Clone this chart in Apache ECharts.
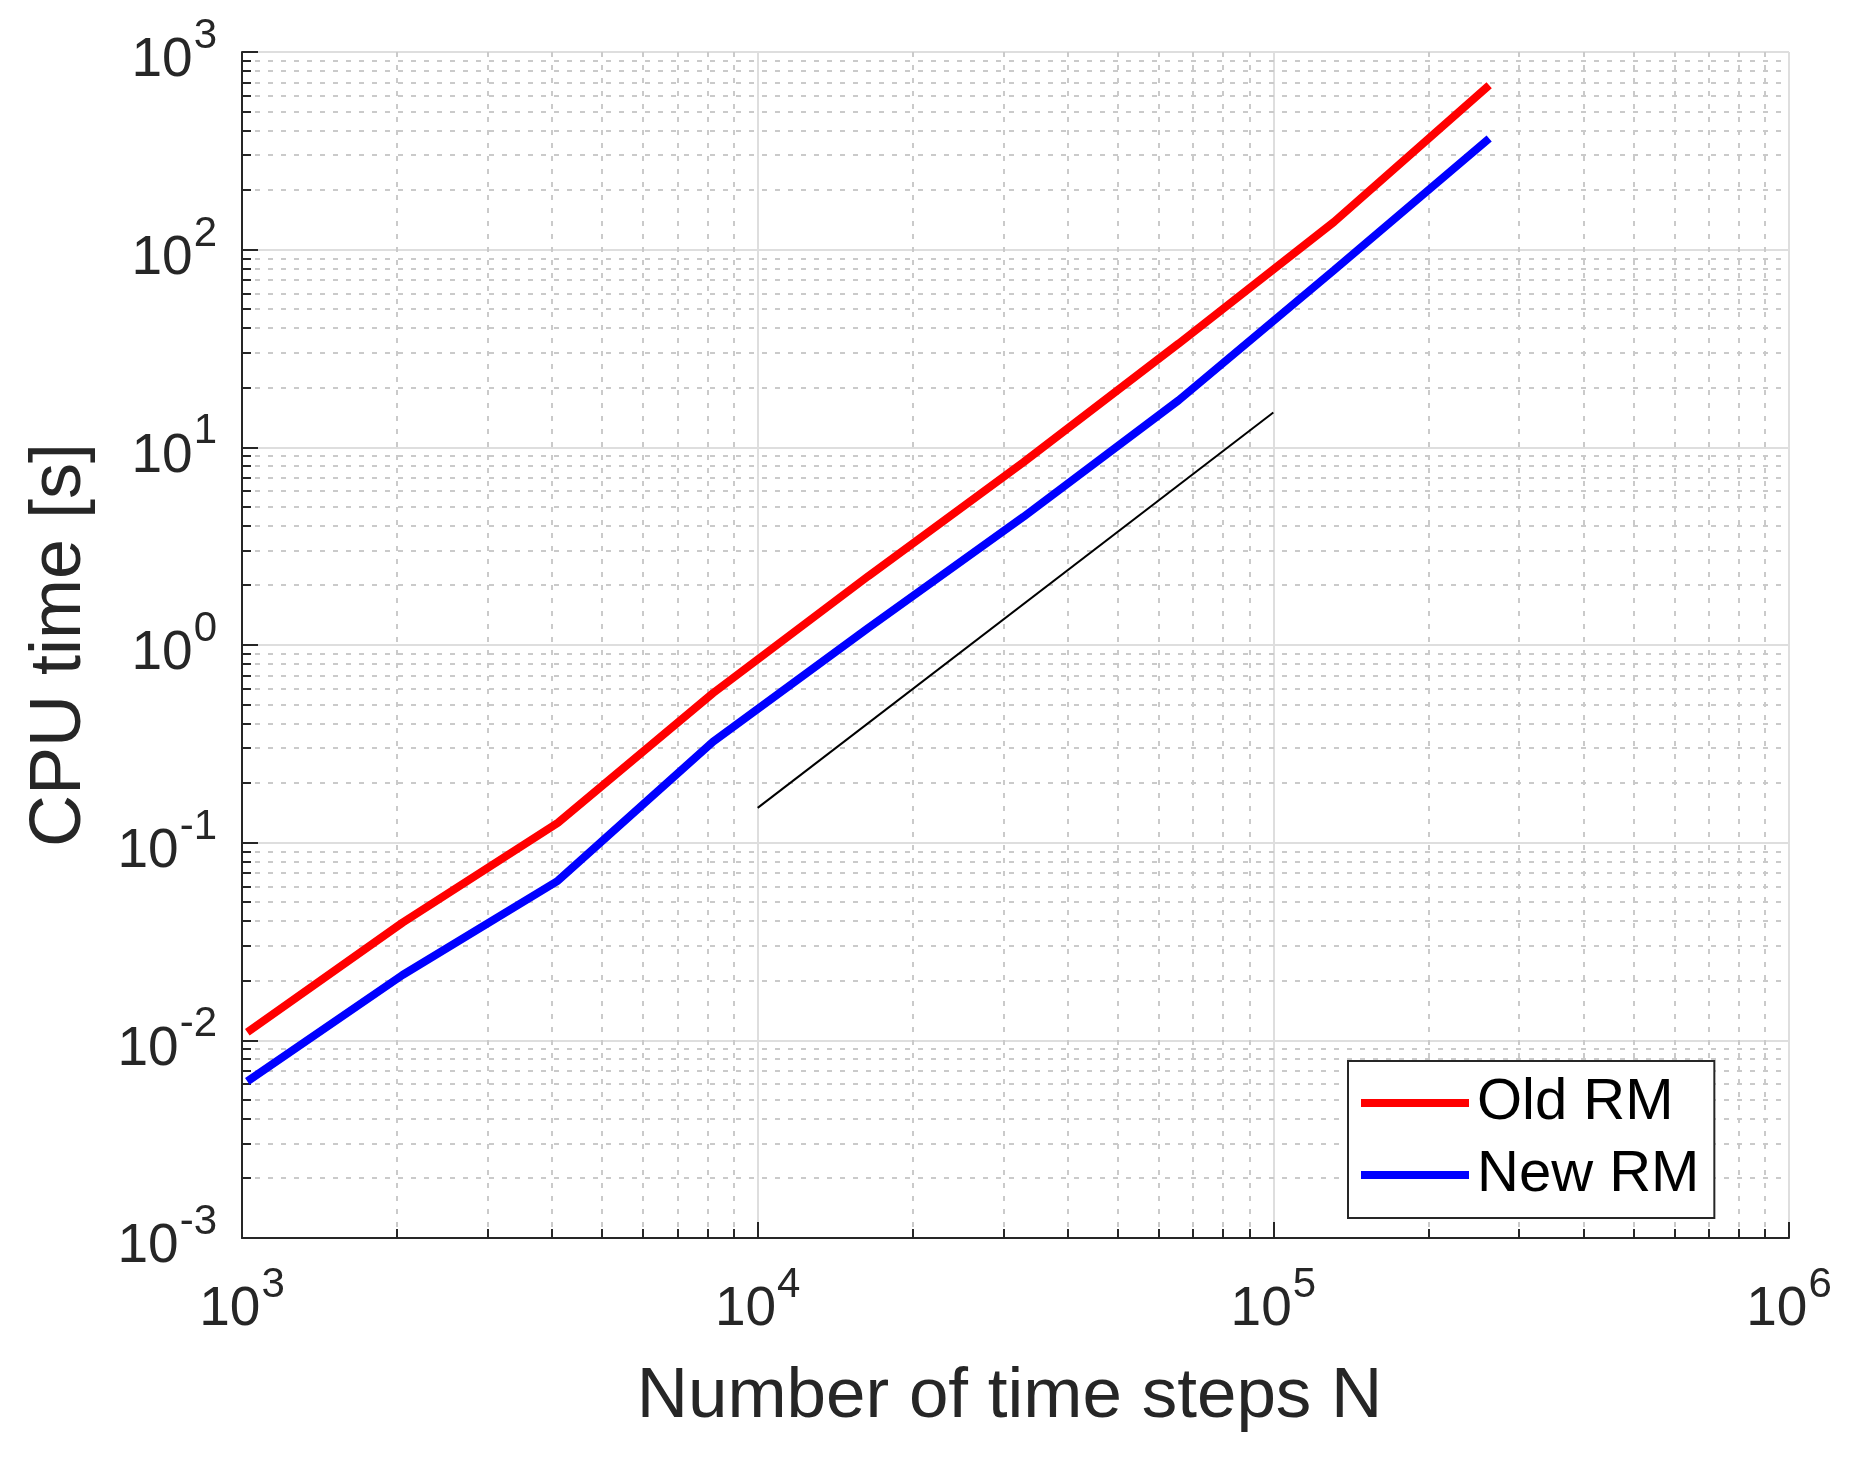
<!DOCTYPE html>
<html>
<head>
<meta charset="utf-8">
<script src="https://cdn.jsdelivr.net/npm/echarts@6/dist/echarts.min.js"></script>
<style>
html, body { margin: 0; padding: 0; background: #fff; }
#chart { width: 1854px; height: 1461px; }
</style>
</head>
<body>
<div id="chart"></div>
<script>
// ---- data ----
const stepsN = [1024, 2048, 4096, 8192, 16384, 32768, 65536, 131072, 262144];
const oldRM = [0.011, 0.0394, 0.126, 0.571, 2.23, 8.4, 33.5, 138, 679];
const newRM = [0.0062, 0.0214, 0.0641, 0.324, 1.22, 4.45, 17.3, 78.7, 365];
const refN = [1e4, 1e5];
const refT = [0.15, 15];
const seriesNames = ['Old RM', 'New RM'];
const xDecades = [1e3, 1e4, 1e5];
const yDecades = [1e-3, 1e-2, 1e-1, 1, 1e1, 1e2];
const minorMult = [2, 3, 4, 5, 6, 7, 8, 9];

const FONT = "'Liberation Sans', Arial, Helvetica, sans-serif";
const AX = '#262626';

const xMinor = [];
xDecades.forEach(d => minorMult.forEach(m => xMinor.push([d * m, 1])));
const yMinor = [];
yDecades.forEach(d => minorMult.forEach(m => yMinor.push([1e4, d * m])));

function pairs(xs, ys) { return xs.map((x, i) => [x, ys[i]]); }

function powLabel(v) {
  const e = Math.round(Math.log10(v));
  return '{b|10}{s|' + e + '}';
}
const labelRich = {
  b: { fontSize: 55, fontFamily: FONT, color: AX, verticalAlign: 'bottom' },
  s: { fontSize: 42, fontFamily: FONT, color: AX, verticalAlign: 'top', padding: [0, 0, 31, 1] }
};

function minorRender(dir) {
  return function (params, api) {
    const cs = params.coordSys;
    const children = [];
    const p = api.coord([api.value(0), api.value(1)]);
    if (dir === 'x') {
      const x = Math.round(p[0]);
      children.push({ type: 'line', shape: { x1: x, y1: cs.y, x2: x, y2: cs.y + cs.height },
        style: { stroke: '#cacaca', lineWidth: 2, lineDash: [5, 8] } });
      children.push({ type: 'line', shape: { x1: x, y1: cs.y + cs.height, x2: x, y2: cs.y + cs.height - 9 },
        style: { stroke: AX, lineWidth: 2 } });
    } else {
      const y = Math.round(p[1]);
      children.push({ type: 'line', shape: { x1: cs.x, y1: y, x2: cs.x + cs.width, y2: y },
        style: { stroke: '#cacaca', lineWidth: 2, lineDash: [5, 8] } });
      children.push({ type: 'line', shape: { x1: cs.x, y1: y, x2: cs.x + 9, y2: y },
        style: { stroke: AX, lineWidth: 2 } });
    }
    return { type: 'group', children: children };
  };
}

const chart = echarts.init(document.getElementById('chart'), null, { renderer: 'canvas' });
chart.setOption({
  animation: false,
  backgroundColor: '#ffffff',
  grid: { left: 242, right: 65, top: 52, bottom: 223, containLabel: false },
  legend: {
    data: seriesNames,
    orient: 'vertical',
    left: 1348, top: 1061,
    padding: [12, 15, 13, 13],
    itemGap: 12,
    itemWidth: 108, itemHeight: 8,
    icon: 'rect',
    backgroundColor: '#ffffff',
    borderColor: AX, borderWidth: 2,
    textStyle: { fontSize: 58, fontFamily: FONT, color: '#000', lineHeight: 60, padding: [0, 0, 0, 3] }
  },
  xAxis: {
    type: 'log', logBase: 10, min: 1e3, max: 1e6, interval: 1,
    name: 'Number of time steps N', nameLocation: 'middle', nameGap: 124,
    nameTextStyle: { fontSize: 71, fontFamily: FONT, color: AX, padding: [0, 12, 0, 0] },
    axisLine: { show: true, lineStyle: { color: AX, width: 2 } },
    axisTick: { show: true, inside: true, length: 16, lineStyle: { color: AX, width: 2 } },
    axisLabel: { show: true, margin: 26, formatter: powLabel, rich: labelRich, showMinLabel: true, showMaxLabel: true },
    splitLine: { show: true, lineStyle: { color: '#dedede', width: 2 } },
    minorTick: { show: false }, minorSplitLine: { show: false }
  },
  yAxis: {
    type: 'log', logBase: 10, min: 1e-3, max: 1e3, interval: 1,
    name: 'CPU time [s]', nameLocation: 'middle', nameGap: 146, nameRotate: 90,
    nameTextStyle: { fontSize: 72, fontFamily: FONT, color: AX },
    axisLine: { show: true, lineStyle: { color: AX, width: 2 } },
    axisTick: { show: true, inside: true, length: 16, lineStyle: { color: AX, width: 2 } },
    axisLabel: { show: true, margin: 25, formatter: powLabel, rich: labelRich, showMinLabel: true, showMaxLabel: true },
    splitLine: { show: true, lineStyle: { color: '#dedede', width: 2 } },
    minorTick: { show: false }, minorSplitLine: { show: false }
  },
  series: [
    { type: 'custom', name: 'xminor', renderItem: minorRender('x'), data: xMinor, z: 1, silent: true, clip: false },
    { type: 'custom', name: 'yminor', renderItem: minorRender('y'), data: yMinor, z: 1, silent: true, clip: false },
    { type: 'line', name: 'ref', data: pairs(refN, refT), symbol: 'none', z: 3,
      lineStyle: { color: '#000000', width: 2 }, itemStyle: { color: '#000' } },
    { type: 'line', name: seriesNames[0], data: pairs(stepsN, oldRM), symbol: 'none', z: 4,
      lineStyle: { color: '#ff0000', width: 8 }, itemStyle: { color: '#ff0000' } },
    { type: 'line', name: seriesNames[1], data: pairs(stepsN, newRM), symbol: 'none', z: 4,
      lineStyle: { color: '#0000ff', width: 8 }, itemStyle: { color: '#0000ff' } }
  ]
});
</script>
</body>
</html>
